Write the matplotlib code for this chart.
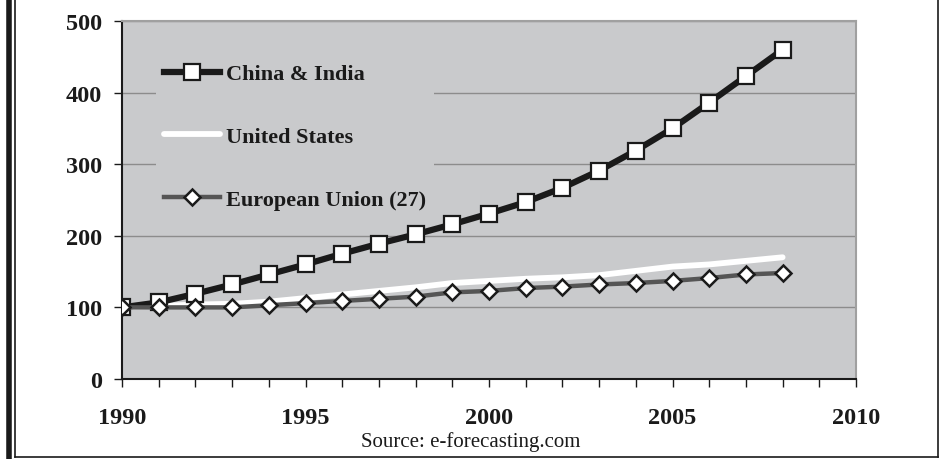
import matplotlib
matplotlib.use('Agg')
import matplotlib.pyplot as plt
from matplotlib.lines import Line2D

# --- Data (index, 1990 = 100) ---
years = list(range(1990, 2009))
china_india = [100, 107, 119, 132, 146, 160, 175, 189, 202, 216, 231, 247,
               267, 291, 319, 350, 386, 423, 460]
united_states = [100, 102, 104, 105, 108, 113, 118, 123, 128, 134, 137, 140,
                 142, 145, 151, 157, 160, 165, 170]
european_union = [100, 100, 100, 100, 103, 106, 109, 112, 115, 121, 123, 127,
                  129, 132, 134, 137, 141, 146, 148]
x_ticks = [1990, 1995, 2000, 2005, 2010]
y_ticks = [0, 100, 200, 300, 400, 500]
source_text = "Source: e-forecasting.com"

FONT = 'Liberation Serif'
BG = '#c9cacc'

fig = plt.figure(figsize=(9.43, 4.6), dpi=100)
ax = fig.add_axes([122 / 943, 80 / 460, 734 / 943, 358 / 460])
ax.set_facecolor(BG)

ax.plot(years, united_states, color='white', lw=4.2, solid_capstyle='round',
        zorder=3, label='United States')
ax.plot(years, china_india, color='#1a1a1a', lw=4.5, marker='s', ms=11.5,
        mfc='white', mec='#1a1a1a', mew=1.6, zorder=4, label='China & India')
ax.plot(years, european_union, color='#555555', lw=3.2, marker='D', ms=8,
        mfc='white', mec='#1a1a1a', mew=1.8, zorder=5, label='European Union (27)')

ax.set_xlim(1990, 2010)
ax.set_ylim(0, 500)
ax.set_xticks(x_ticks)
ax.set_xticks(range(1990, 2011), minor=True)
ax.set_yticks(y_ticks)
ax.yaxis.grid(True, color='#8c8c8c', lw=1.0)
ax.set_axisbelow(True)

ax.tick_params(axis='both', which='both', direction='out', length=5.8, width=1,
               color='#1a1a1a')
ax.tick_params(axis='x', which='major', pad=14.5)
ax.tick_params(axis='y', which='major', pad=8.6)
for lbl in ax.get_xticklabels() + ax.get_yticklabels():
    lbl.set_fontfamily(FONT)
    lbl.set_fontweight('bold')
    lbl.set_fontsize(17.5)
    lbl.set_color('#1a1a1a')

ax.spines['left'].set_color('#1a1a1a')
ax.spines['bottom'].set_color('#1a1a1a')
ax.spines['top'].set_color('#a0a0a0')
ax.spines['right'].set_color('#a0a0a0')
for s in ax.spines.values():
    s.set_linewidth(1.5)

# legend (ordered China, US, EU)
handles, labels = ax.get_legend_handles_labels()
order = [1, 0, 2]
leg = ax.legend([handles[i] for i in order], [labels[i] for i in order],
                loc='upper left', bbox_to_anchor=(156 / 943, 1 - 57 / 460),
                bbox_transform=fig.transFigure, frameon=True, facecolor=BG,
                edgecolor='none', framealpha=1, fancybox=False,
                handlelength=2.55, handletextpad=0.27, labelspacing=1.9,
                borderpad=0.35, borderaxespad=0,
                prop={'family': FONT, 'weight': 'bold', 'size': 16})
for t in leg.get_texts():
    t.set_color('#1a1a1a')
leg.set_zorder(2)

fig.text(471 / 943, 1 - 442 / 460, source_text, ha='center', va='center',
         fontfamily=FONT, fontsize=15, color='#1a1a1a')

# page border lines
fig.add_artist(Line2D([8.5 / 943, 8.5 / 943], [0, 1], color='#1a1a1a', lw=4,
                      transform=fig.transFigure))
fig.add_artist(Line2D([15 / 943, 15 / 943], [2 / 460, 1], color='#1a1a1a', lw=1.2,
                      transform=fig.transFigure))
fig.add_artist(Line2D([15 / 943, 938 / 943], [2 / 460, 2 / 460], color='#1a1a1a',
                      lw=1.2, transform=fig.transFigure))
fig.add_artist(Line2D([938 / 943, 938 / 943], [2 / 460, 1], color='#1a1a1a', lw=1.2,
                      transform=fig.transFigure))

fig.savefig('out.png', dpi=100)
